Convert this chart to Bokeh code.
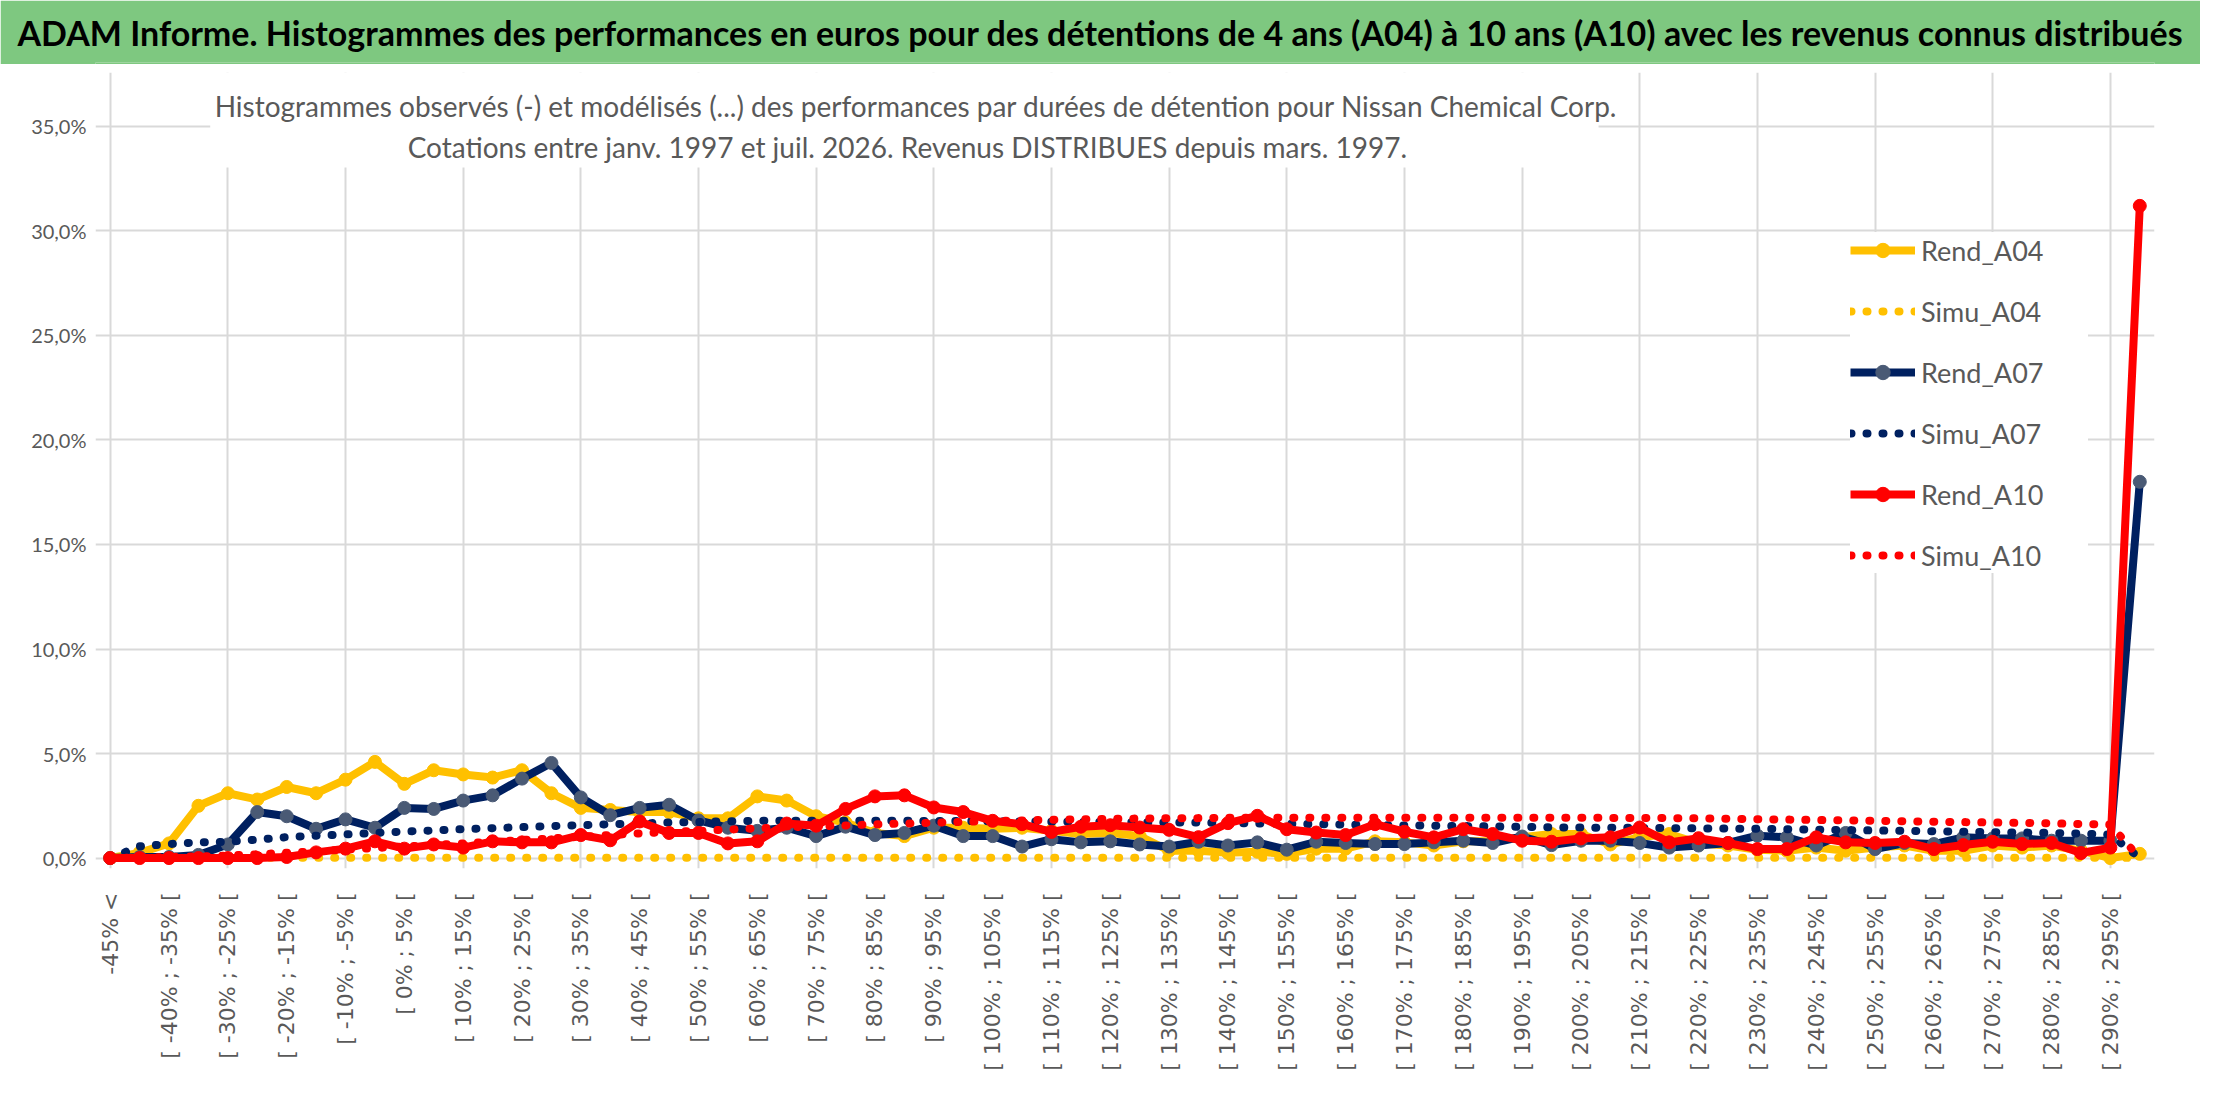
from math import pi
from bokeh.plotting import figure
from bokeh.models import (Range1d, FixedTicker, Legend, LegendItem, Label, Title,
                          BoxAnnotation, ColumnDataSource)
from bokeh.layouts import column
from bokeh.embed import file_html
from bokeh.resources import INLINE

# ---------------- data ----------------
categories = [
    "-45% <",
    "[ -45% ; -40% [", "[ -40% ; -35% [", "[ -35% ; -30% [", "[ -30% ; -25% [",
    "[ -25% ; -20% [", "[ -20% ; -15% [", "[ -15% ; -10% [", "[ -10% ; -5% [",
    "[ -5% ; 0% [", "[ 0% ; 5% [", "[ 5% ; 10% [", "[ 10% ; 15% [",
    "[ 15% ; 20% [", "[ 20% ; 25% [", "[ 25% ; 30% [", "[ 30% ; 35% [",
    "[ 35% ; 40% [", "[ 40% ; 45% [", "[ 45% ; 50% [", "[ 50% ; 55% [",
    "[ 55% ; 60% [", "[ 60% ; 65% [", "[ 65% ; 70% [", "[ 70% ; 75% [",
    "[ 75% ; 80% [", "[ 80% ; 85% [", "[ 85% ; 90% [", "[ 90% ; 95% [",
    "[ 95% ; 100% [", "[ 100% ; 105% [", "[ 105% ; 110% [", "[ 110% ; 115% [",
    "[ 115% ; 120% [", "[ 120% ; 125% [", "[ 125% ; 130% [", "[ 130% ; 135% [",
    "[ 135% ; 140% [", "[ 140% ; 145% [", "[ 145% ; 150% [", "[ 150% ; 155% [",
    "[ 155% ; 160% [", "[ 160% ; 165% [", "[ 165% ; 170% [", "[ 170% ; 175% [",
    "[ 175% ; 180% [", "[ 180% ; 185% [", "[ 185% ; 190% [", "[ 190% ; 195% [",
    "[ 195% ; 200% [", "[ 200% ; 205% [", "[ 205% ; 210% [", "[ 210% ; 215% [",
    "[ 215% ; 220% [", "[ 220% ; 225% [", "[ 225% ; 230% [", "[ 230% ; 235% [",
    "[ 235% ; 240% [", "[ 240% ; 245% [", "[ 245% ; 250% [", "[ 250% ; 255% [",
    "[ 255% ; 260% [", "[ 260% ; 265% [", "[ 265% ; 270% [", "[ 270% ; 275% [",
    "[ 275% ; 280% [", "[ 280% ; 285% [", "[ 285% ; 290% [", "[ 290% ; 295% [",
    "> 295%",
]

rend_a04 = [0.0, 0.25, 0.7, 2.5, 3.1, 2.8, 3.4, 3.1, 3.75, 4.6,
            3.55, 4.2, 4.0, 3.85, 4.2, 3.1, 2.4, 2.3, 2.2, 2.2,
            1.9, 1.9, 2.95, 2.75, 2.0, 1.7, 1.2, 1.05, 1.45, 1.45,
            1.4, 1.45, 1.3, 1.15, 1.2, 1.05, 0.35, 0.35, 0.25, 0.3,
            0.2, 0.45, 0.45, 0.8, 0.75, 0.6, 0.8, 0.8, 1.0, 1.15,
            1.15, 0.65, 1.0, 1.15, 0.7, 0.6, 0.4, 0.35, 0.5, 0.35,
            0.5, 0.6, 0.35, 0.35, 0.6, 0.5, 0.6, 0.35, 0.0, 0.2]

simu_a04 = [0.0, 0.02, 0.02, 0.02, 0.02, 0.02, 0.02, 0.02, 0.02, 0.02,
            0.02, 0.02, 0.02, 0.02, 0.02, 0.02, 0.02, 0.02, 0.02, 0.02,
            0.02, 0.02, 0.02, 0.02, 0.02, 0.02, 0.02, 0.02, 0.02, 0.02,
            0.02, 0.02, 0.02, 0.02, 0.02, 0.02, 0.02, 0.02, 0.02, 0.02,
            0.02, 0.02, 0.02, 0.02, 0.02, 0.02, 0.02, 0.02, 0.02, 0.02,
            0.02, 0.02, 0.02, 0.02, 0.02, 0.02, 0.02, 0.02, 0.02, 0.02,
            0.02, 0.02, 0.02, 0.02, 0.02, 0.02, 0.02, 0.02, 0.02, 0.0]

rend_a07 = [0.0, 0.05, 0.05, 0.15, 0.65, 2.2, 2.0, 1.4, 1.85, 1.45,
            2.4, 2.35, 2.75, 3.0, 3.8, 4.55, 2.9, 2.05, 2.4, 2.55,
            1.8, 1.45, 1.3, 1.45, 1.05, 1.5, 1.1, 1.2, 1.55, 1.05,
            1.05, 0.55, 0.9, 0.75, 0.8, 0.65, 0.55, 0.78, 0.6, 0.75,
            0.4, 0.78, 0.72, 0.67, 0.67, 0.75, 0.83, 0.72, 1.03, 0.62,
            0.83, 0.83, 0.72, 0.5, 0.6, 0.72, 1.07, 0.99, 0.6, 1.2,
            0.43, 0.72, 0.67, 0.99, 0.94, 0.94, 0.83, 0.83, 0.83, 18.0]

simu_a07 = [0.0, 0.56, 0.67, 0.75, 0.78, 0.88, 1.0, 1.07, 1.13, 1.2,
            1.27, 1.32, 1.38, 1.43, 1.48, 1.53, 1.57, 1.62, 1.65, 1.7,
            1.72, 1.76, 1.78, 1.78, 1.78, 1.78, 1.78, 1.78, 1.77, 1.77,
            1.76, 1.75, 1.74, 1.73, 1.72, 1.71, 1.7, 1.7, 1.68, 1.66,
            1.64, 1.62, 1.6, 1.58, 1.56, 1.55, 1.53, 1.51, 1.49, 1.47,
            1.46, 1.45, 1.44, 1.43, 1.42, 1.41, 1.4, 1.38, 1.36, 1.34,
            1.32, 1.3, 1.28, 1.26, 1.24, 1.22, 1.2, 1.17, 1.12, 0.0]

rend_a10 = [0.0, 0.0, 0.0, 0.0, 0.0, 0.0, 0.05, 0.27, 0.45, 0.8,
            0.45, 0.65, 0.5, 0.8, 0.75, 0.75, 1.1, 0.85, 1.75, 1.2,
            1.2, 0.7, 0.8, 1.65, 1.55, 2.35, 2.95, 3.0, 2.42, 2.2,
            1.78, 1.62, 1.25, 1.5, 1.57, 1.46, 1.35, 1.0, 1.67, 2.02,
            1.38, 1.22, 1.1, 1.62, 1.26, 0.99, 1.38, 1.15, 0.83, 0.78,
            0.94, 0.99, 1.46, 0.75, 0.95, 0.72, 0.43, 0.43, 0.99, 0.75,
            0.72, 0.78, 0.43, 0.62, 0.78, 0.67, 0.72, 0.24, 0.5, 31.2]

simu_a10 = [0.0, 0.02, 0.05, 0.08, 0.12, 0.18, 0.25, 0.32, 0.4, 0.48,
            0.55, 0.63, 0.7, 0.78, 0.86, 0.94, 1.02, 1.1, 1.18, 1.25,
            1.3, 1.36, 1.42, 1.47, 1.52, 1.56, 1.61, 1.65, 1.69, 1.73,
            1.77, 1.8, 1.83, 1.85, 1.87, 1.89, 1.9, 1.91, 1.93, 1.93,
            1.93, 1.93, 1.93, 1.93, 1.93, 1.93, 1.93, 1.93, 1.93, 1.93,
            1.93, 1.92, 1.92, 1.91, 1.9, 1.88, 1.86, 1.84, 1.82, 1.8,
            1.78, 1.76, 1.74, 1.72, 1.7, 1.68, 1.66, 1.63, 1.6, 0.0]

y_ticks = [0, 5, 10, 15, 20, 25, 30, 35]
y_tick_labels = ["0,0%", "5,0%", "10,0%", "15,0%", "20,0%", "25,0%", "30,0%", "35,0%"]

series_names = ["Rend_A04", "Simu_A04", "Rend_A07", "Simu_A07", "Rend_A10", "Simu_A10"]

TITLE = ("ADAM Informe. Histogrammes des performances en euros pour des détentions "
         "de 4 ans (A04) à 10 ans (A10) avec les revenus connus distribués")
SUB1 = ("Histogrammes observés (-) et modélisés (...) des performances par durées "
        "de détention pour Nissan Chemical Corp.")
SUB2 = "Cotations entre janv. 1997 et juil. 2026. Revenus DISTRIBUES depuis mars. 1997."

# ---------------- styles ----------------
GOLD = "#FFC000"
NAVY = "#002060"
NAVY_MK = "#4A5A75"
RED = "#FF0000"
GREEN = "#7EC880"
GRID = "#D9D9D9"
TXT = "#595959"
FONT = "Lato"

W = 2200
HEAD_H = 64
MAIN_H = 1030
BL, BR = 95, 46          # left / right borders of the chart frame

x = list(range(len(categories)))

# ---------------- header band (title drawn in the header's title panel) ----------------
header = figure(width=W, height=HEAD_H, x_range=Range1d(0, 1), y_range=Range1d(0, 1),
                output_backend="svg", toolbar_location=None, title=None,
                x_axis_location=None, y_axis_location=None, min_border=0,
                outline_line_color=None)
header.grid.visible = False
header.background_fill_color = GREEN
header.border_fill_color = GREEN
header.add_layout(Title(text=TITLE, align="left", offset=17 - BL, standoff=19,
                        text_font=FONT, text_font_style="bold", text_font_size="34px",
                        text_color="#000000"), "above")

# ---------------- main chart ----------------
p = figure(width=W, height=MAIN_H, x_range=Range1d(-0.5, 69.5), y_range=Range1d(-0.5, 37.58),
           output_backend="svg", toolbar_location=None, title=None,
           min_border_left=BL, min_border_right=BR, min_border_top=8, min_border_bottom=226,
           outline_line_color=None)
p.background_fill_color = "white"
p.border_fill_color = "white"

# grids limited to the data area
p.ygrid.ticker = FixedTicker(ticks=y_ticks)
p.ygrid.bounds = (x[0], x[-1])
p.ygrid.grid_line_color = GRID
p.ygrid.grid_line_width = 2
p.xgrid.ticker = FixedTicker(ticks=x[::4])
p.xgrid.bounds = (y_ticks[0], y_ticks[-1])
p.xgrid.grid_line_color = GRID
p.xgrid.grid_line_width = 2

# y axis
p.yaxis.ticker = FixedTicker(ticks=y_ticks)
p.yaxis.major_label_overrides = {t: l for t, l in zip(y_ticks, y_tick_labels)}
p.yaxis.axis_line_color = None
p.yaxis.major_tick_line_color = None
p.yaxis.minor_tick_line_color = None
p.yaxis.major_label_text_font = FONT
p.yaxis.major_label_text_font_size = "20px"
p.yaxis.major_label_text_color = TXT
p.yaxis.major_label_standoff = 3

# x axis
p.xaxis.ticker = FixedTicker(ticks=x[::2])
p.xaxis.major_label_overrides = {i: categories[i] for i in x[::2]}
p.xaxis.major_label_orientation = pi / 2
p.xaxis.axis_line_color = None
p.xaxis.major_tick_line_color = None
p.xaxis.minor_tick_line_color = None
p.xaxis.major_label_text_font = "DejaVu Sans"
p.xaxis.major_label_text_font_size = "22px"
p.xaxis.major_label_text_color = TXT
p.xaxis.major_label_standoff = 18

src = ColumnDataSource(dict(x=x, rend_a04=rend_a04, simu_a04=simu_a04,
                            rend_a07=rend_a07, simu_a07=simu_a07,
                            rend_a10=rend_a10, simu_a10=simu_a10))

DOT = "1 15"
items = []

def rend(col, color, mk_color, name):
    rl = p.line("x", col, source=src, line_color=color, line_width=8, line_join="round")
    rm = p.scatter("x", col, source=src, size=13, fill_color=mk_color, line_color=mk_color)
    items.append(LegendItem(label=name, renderers=[rl, rm]))

def simu(col, color, name):
    rl = p.line("x", col, source=src, line_color=color, line_width=8, line_dash=DOT,
                line_cap="round", line_join="round")
    items.append(LegendItem(label=name, renderers=[rl]))

rend("rend_a04", GOLD, GOLD, series_names[0])
simu("simu_a04", GOLD, series_names[1])
rend("rend_a07", NAVY, NAVY_MK, series_names[2])
simu("simu_a07", NAVY, series_names[3])
rend("rend_a10", RED, RED, series_names[4])
simu("simu_a10", RED, series_names[5])

# subtitle box (white, hides grid behind it) and texts
p.add_layout(BoxAnnotation(left=3.4, right=50.6, bottom=33.04, top=37.58,
                           fill_color="white", fill_alpha=1.0, line_color=None))
p.add_layout(Label(x=27.4, y=35.96, text=SUB1, text_align="center", text_baseline="middle",
                   text_font=FONT, text_font_size="28px", text_color=TXT))
p.add_layout(Label(x=27.1, y=34.0, text=SUB2, text_align="center", text_baseline="middle",
                   text_font=FONT, text_font_size="28px", text_color=TXT))

legend = Legend(items=items, location=(1755, 295),
                background_fill_color="white", background_fill_alpha=1.0,
                border_line_color=None, label_text_font=FONT,
                label_text_font_size="27px", label_text_color=TXT,
                glyph_width=65, glyph_height=36, label_height=36, spacing=25,
                padding=10, margin=0, label_standoff=6, label_width=167)
p.add_layout(legend)

layout = column(header, p, spacing=0)
open("out.html", "w").write(file_html(layout, INLINE))
